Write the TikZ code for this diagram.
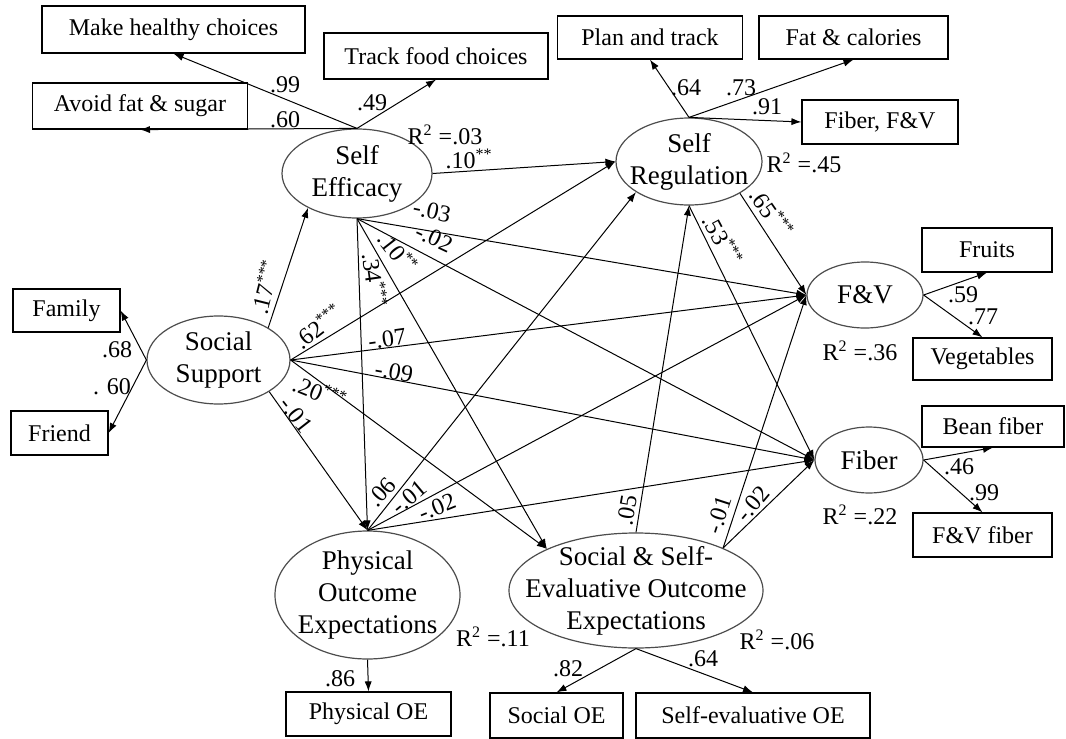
\documentclass[tikz,border=0pt]{standalone}
\usepackage{fontspec}
\setmainfont{Liberation Serif}
\usepackage{tikz}
\usetikzlibrary{arrows.meta,
shapes.geometric
}
\tikzset{>={Latex[length=5pt,width=3.6pt]}}
\tikzset{
  obsbox/.style={draw, line width=0.6pt, inner sep=0pt, font=\fontsize{12}{14}\selectfont},
  latent/.style={ellipse, draw=black!70, line width=0.6pt, inner sep=0pt},
  lattext/.style={align=center, inner sep=0pt, font=\fontsize{13.5}{16}\selectfont},
  lbl/.style={inner sep=0pt, font=\fontsize{12}{14}\selectfont},
  link/.style={->, line width=0.5pt}
}
\newcommand{\rsq}[1]{R\textsuperscript{2} =#1}

\begin{document}
\begin{tikzpicture}[x=0.5pt,y=-0.5pt]
                \useasboundingbox (0,0) rectangle (1066,739);

                % latent variables
                \node[latent, minimum width=75pt, minimum height=44.5pt] (SE) at (357,173.5) {};
                \node[latent, minimum width=71.5pt, minimum height=44pt] (SS) at (218.5,360) {};
                \node[latent, minimum width=73pt, minimum height=43.5pt] (SR) at (689,161.5) {};
                \node[latent, minimum width=58pt, minimum height=33pt] (FV) at (865,295) {};
                \node[latent, minimum width=54pt, minimum height=33pt] (Fib) at (869,460) {};
                \node[latent, minimum width=92.5pt, minimum height=64pt] (POE) at (367.5,595) {};
                \node[latent, minimum width=127pt, minimum height=57.5pt] (SSE) at (636,590.5) {};

                \node[lattext] (tSE) at (SE) {Self\\Efficacy};
                \node[lattext] (tSS) at (SS) {Social\\Support};
                \node[lattext] (tSR) at (SR) {Self\\Regulation};
                \node[lattext] (tFV) at (FV) {F\&V};
                \node[lattext] (tFib) at (Fib) {Fiber};
                \node[lattext] (tPOE) at (POE) {Physical\\Outcome\\Expectations};
                \node[lattext] (tSSE) at (SSE) {Social \& Self-\\Evaluative Outcome\\Expectations};

                % indicators
                \node[obsbox, minimum width=131.5pt, minimum height=23.5pt] (mhc) at (173.5,29.5) {Make healthy choices};
                \node[obsbox, minimum width=112pt, minimum height=23pt] (tfc) at (436,56) {Track food choices};
                \node[obsbox, minimum width=107.5pt, minimum height=23pt] (afs) at (140,106) {Avoid fat \& sugar};
                \node[obsbox, minimum width=92.5pt, minimum height=21.5pt] (pat) at (650,37.5) {Plan and track};
                \node[obsbox, minimum width=94.5pt, minimum height=21.5pt] (fac) at (853.5,37.5) {Fat \& calories};
                \node[obsbox, minimum width=78pt, minimum height=22pt] (ffv) at (880,122) {Fiber, F\&V};
                \node[obsbox, minimum width=53.5pt, minimum height=21.5pt] (fam) at (66.5,310.5) {Family};
                \node[obsbox, minimum width=48.5pt, minimum height=22pt] (fri) at (59.5,433) {Friend};
                \node[obsbox, minimum width=65pt, minimum height=22pt] (fru) at (987,250) {Fruits};
                \node[obsbox, minimum width=69.5pt, minimum height=21pt] (veg) at (982.5,359) {Vegetables};
                \node[obsbox, minimum width=71pt, minimum height=20.5pt] (bea) at (993,426.5) {Bean fiber};
                \node[obsbox, minimum width=69.5pt, minimum height=22pt] (fvf) at (982.5,535) {F\&V fiber};
                \node[obsbox, minimum width=82.5pt, minimum height=22pt] (pho) at (368.5,714) {Physical OE};
                \node[obsbox, minimum width=66.5pt, minimum height=22.5pt] (soe) at (556.5,715.5) {Social OE};
                \node[obsbox, minimum width=117pt, minimum height=22.5pt] (seo) at (753,715.5) {Self-evaluative OE};

                % measurement arrows
                \draw[link] (SE.north) -- (mhc.south);
                \draw[link] (SE.north) -- (afs.south);
                \draw[link] (SE.north) -- (tfc.south);
                \draw[link] (SR.north) -- (pat.south);
                \draw[link] (SR.north) -- (fac.south);
                \draw[link] (SR.north) -- (ffv.west);
                \draw[link] (SS.west) -- (fam.east);
                \draw[link] (SS.west) -- (fri.east);
                \draw[link] (FV.east) -- (fru.south);
                \draw[link] (FV.east) -- (veg.north);
                \draw[link] (Fib.east) -- (bea.south);
                \draw[link] (Fib.east) -- (fvf.north);
                \draw[link] (POE.south) -- (pho.north);
                \draw[link] (SSE.south) -- (soe.north);
                \draw[link] (SSE.south) -- (seo.north);

                % structural paths
                \draw[link] (SS.33) -- (SE.215);
                \draw[link] (SE.east) -- (SR.west);
                \draw[link] (SE.south) -- (FV.west);
                \draw[link] (SE.south) -- (Fib.west);
                \draw[link] (SE.south) -- (SSE.155);
                \draw[link] (SE.south) -- (POE.north);
                \draw[link] (SS.east) -- (SR.west);
                \draw[link] (SS.east) -- (FV.west);
                \draw[link] (SS.east) -- (Fib.west);
                \draw[link] (SS.east) -- (SSE.155);
                \draw[link] (SS.-32) -- (POE.north);
                \draw[link] (POE.north) -- (SR.210);
                \draw[link] (POE.north) -- (FV.west);
                \draw[link] (POE.north) -- (Fib.west);
                \draw[link] (SSE.north) -- (SR.south);
                \draw[link] (SSE.26) -- (FV.west);
                \draw[link] (SSE.26) -- (Fib.west);
                \draw[link] (SR.-32) -- (FV.west);
                \draw[link] (SR.south) -- (Fib.west);

                % loadings and R^2
                \node[lbl] (l_mhc) at (285,85) {.99};
                \node[lbl] (l_afs) at (285,120) {.60};
                \node[lbl] (l_tfc) at (372,103) {.49};
                \node[lbl] (r_SE) at (445,135) {\rsq{.03}};
                \node[lbl] (l_pat) at (686,88) {.64};
                \node[lbl] (l_fac) at (741,88) {.73};
                \node[lbl] (l_ffv) at (767,107) {.91};
                \node[lbl] (r_SR) at (804,163) {\rsq{.45}};
                \node[lbl] (l_fam) at (117,350) {.68};
                \node[lbl] (l_fri) at (112,387) {. 60};
                \node[lbl] (l_fru) at (963,295) {.59};
                \node[lbl] (l_veg) at (983,317) {.77};
                \node[lbl] (r_FV) at (860,351) {\rsq{.36}};
                \node[lbl] (l_bea) at (959,467) {.46};
                \node[lbl] (l_fvf) at (984,493) {.99};
                \node[lbl] (r_Fib) at (860,515) {\rsq{.22}};
                \node[lbl] (l_pho) at (340,679) {.86};
                \node[lbl] (r_POE) at (493,637) {\rsq{.11}};
                \node[lbl] (l_soe) at (568,669) {.82};
                \node[lbl] (l_seo) at (703,659) {.64};
                \node[lbl] (r_SSE) at (777,640) {\rsq{.06}};

                % path coefficients
                \node[lbl, rotate=76] (c_SS_SE) at (265,287) {.17\textsuperscript{***}};
                \node[lbl] (c_SE_SR) at (469,159) {.10\textsuperscript{**}};
                \node[lbl, rotate=-12] (c_SE_FV) at (432,211) {-.03};
                \node[lbl, rotate=-25] (c_SE_Fib) at (434,238) {-.02};
                \node[lbl, rotate=-52] (c_SE_SSE) at (398,252) {.10\textsuperscript{**}};
                \node[lbl, rotate=-82] (c_SE_POE) at (375,280) {.34\textsuperscript{***}};
                \node[lbl, rotate=38] (c_SS_SR) at (318,326) {.62\textsuperscript{***}};
                \node[lbl, rotate=8] (c_SS_FV) at (387,339) {-.07};
                \node[lbl, rotate=-10] (c_SS_Fib) at (394,372) {-.09};
                \node[lbl, rotate=-22] (c_SS_SSE) at (320,392) {.20\textsuperscript{***}};
                \node[lbl, rotate=-52] (c_SS_POE) at (296,415) {-.01};
                \node[lbl, rotate=48] (c_POE_SR) at (382,492) {.06};
                \node[lbl, rotate=40] (c_POE_FV) at (409,497) {-.01};
                \node[lbl, rotate=22] (c_POE_Fib) at (437,507) {-.02};
                \node[lbl, rotate=80] (c_SSE_SR) at (627,510) {.05};
                \node[lbl, rotate=72] (c_SSE_FV) at (719,515) {-.01};
                \node[lbl, rotate=50] (c_SSE_Fib) at (753,504) {-.02};
                \node[lbl, rotate=-55] (c_SR_FV) at (772,213) {.65\textsuperscript{***}};
                \node[lbl, rotate=-62] (c_SR_Fib) at (723,240) {.53\textsuperscript{***}};
            \end{tikzpicture}
\end{document}
